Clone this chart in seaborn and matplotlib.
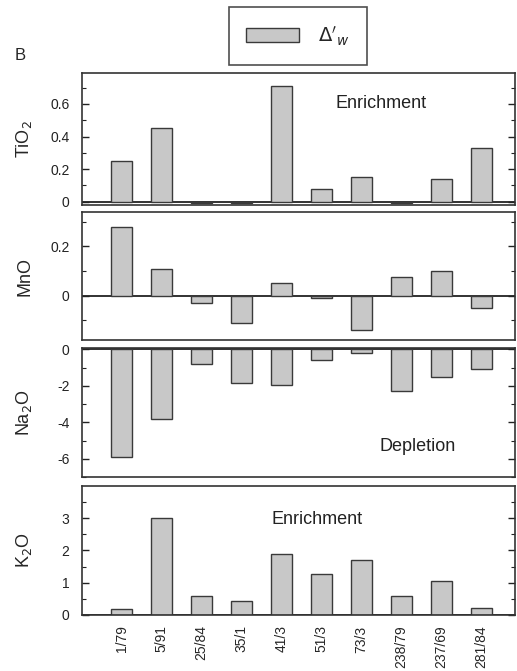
import pandas as pd
import matplotlib.pyplot as plt
import matplotlib.ticker as mticker
import seaborn as sns

# Samples and element changes (read from figure B)
samples = ['1/79', '5/91', '25/84', '35/1', '41/3', '51/3', '73/3', '238/79', '237/69', '281/84']
tio2 = [0.25, 0.45, -0.01, -0.01, 0.71, 0.08, 0.15, -0.01, 0.14, 0.33]
mno = [0.28, 0.11, -0.03, -0.11, 0.05, -0.01, -0.14, 0.075, 0.10, -0.05]
na2o = [-5.9, -3.8, -0.8, -1.85, -1.95, -0.6, -0.22, -2.26, -1.49, -1.09]
k2o = [0.2, 3.0, 0.59, 0.44, 1.9, 1.27, 1.69, 0.59, 1.04, 0.22]

ylabels = ['TiO$_2$', 'MnO', 'Na$_2$O', 'K$_2$O']
series = [tio2, mno, na2o, k2o]
ylims = [(-0.02, 0.79), (-0.18, 0.34), (-7.0, 0.08), (0.0, 3.99)]
majors = [0.2, 0.2, 2, 1]
minors = [0.1, 0.1, 1, 0.5]
notes = [('Enrichment', 6.5, 0.6), None, ('Depletion', 7.4, -5.3), ('Enrichment', 4.9, 2.95)]

sns.set_style('white')
plt.rcParams['font.family'] = ['Liberation Sans', 'DejaVu Sans']

fig = plt.figure(figsize=(5.17, 6.71), dpi=100)
H = 671.0
W = 517.0
# (top, bottom) in pixels
boxes = [(73, 205), (212, 340), (348, 477), (486, 615)]

bar_color = '#c8c8c8'
edge = '#3a3a3a'

for i, (vals, lab) in enumerate(zip(series, ylabels)):
    top, bot = boxes[i]
    ax = fig.add_axes([82 / W, 1 - bot / H, (515 - 82) / W, (bot - top) / H])
    df = pd.DataFrame({'sample': samples, 'value': vals})
    sns.barplot(data=df, x='sample', y='value', ax=ax, color=bar_color,
                saturation=1, width=0.53, edgecolor=edge, linewidth=1.0)
    ax.axhline(0, color='#222222', lw=1.3, zorder=0.5)
    ax.set_xlim(-1.0, 9.85)
    ax.set_ylim(*ylims[i])
    ax.set_ylabel(lab, fontsize=13)
    ax.yaxis.set_label_coords(-0.112, 0.5)
    ax.set_xlabel('')
    ax.yaxis.set_major_locator(mticker.MultipleLocator(majors[i]))
    ax.yaxis.set_minor_locator(mticker.MultipleLocator(minors[i]))
    ax.yaxis.set_major_formatter(mticker.FuncFormatter(lambda v, p: f'{v:g}'))
    ax.tick_params(axis='y', which='both', direction='in', left=True, right=True,
                   labelsize=10, colors='#222222')
    ax.tick_params(axis='y', which='major', length=5, width=1, pad=9)
    ax.tick_params(axis='y', which='minor', length=3, width=0.8)
    for s in ax.spines.values():
        s.set_color('#333333')
        s.set_linewidth(1.2)
    if i < 3:
        ax.tick_params(axis='x', bottom=False, labelbottom=False)
    else:
        ax.tick_params(axis='x', bottom=False, labelsize=10, pad=4)
        plt.setp(ax.get_xticklabels(), rotation=90)
    if notes[i]:
        txt, xx, yy = notes[i]
        ax.text(xx, yy, txt, fontsize=13, ha='center', va='center', color='#222222')

# Legend box and panel letter
handle = plt.Rectangle((0, 0), 1, 1, facecolor=bar_color, edgecolor=edge, linewidth=1.0)
leg = fig.legend([handle], [r"$\Delta'_{w}$"], loc='center',
                 bbox_to_anchor=(298 / W, 1 - 36 / H), fontsize=14, frameon=True,
                 fancybox=False, edgecolor='#222222', handlelength=2.7,
                 handleheight=0.7, handletextpad=1.0, borderpad=0.9,
                 borderaxespad=0)
leg.get_frame().set_linewidth(1.2)
fig.text(20 / W, 1 - 56 / H, 'B', fontsize=12, ha='center', va='center')

plt.savefig('out.png', dpi=100)
